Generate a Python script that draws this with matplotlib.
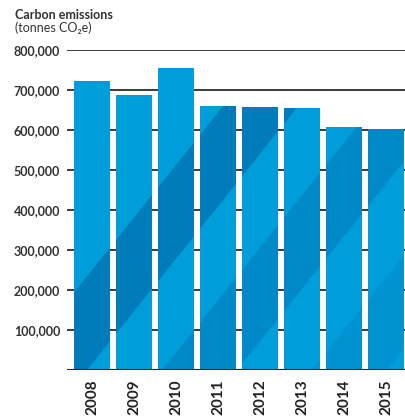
import matplotlib.pyplot as plt
import matplotlib.transforms as mtransforms
from matplotlib.patches import Polygon

# data
years = ['2008', '2009', '2010', '2011', '2012', '2013', '2014', '2015']
emissions = [722500, 688000, 756000, 661000, 657500, 655000, 607500, 602500]
y_ticks = [0, 100000, 200000, 300000, 400000, 500000, 600000, 700000, 800000]

plt.rcParams['font.family'] = ['Lato', 'DejaVu Sans']

fig = plt.figure(figsize=(4.05, 4.18), dpi=100)
ax = fig.add_axes([67 / 405, 48 / 418, 338 / 405, 320 / 418])

base_blue = '#009ddb'
bars = ax.bar(range(len(years)), emissions, width=0.857, color=base_blue,
              zorder=2, linewidth=0)

# decorative diagonal stripes, in pixels from the lower-left corner of the axes
ax_w, ax_h = 338.0, 320.0
px = mtransforms.Affine2D().scale(1 / ax_w, 1 / ax_h) + ax.transAxes
slope = 1.25
stripes = [(-55, 20, '#007cba'), (95, 170, '#0089c9'), (245, 320, '#0092d1')]
for bar in bars:
    for c0, c1, col in stripes:
        pts = [(c0, 0), (c1, 0), (c1 + 400 / slope, 400), (c0 + 400 / slope, 400)]
        poly = Polygon(pts, closed=True, transform=px, facecolor=col,
                       edgecolor='none', zorder=2.5)
        ax.add_patch(poly)
        poly.set_clip_path(bar)

ax.set_xlim(-0.595, 7.45)
ax.set_ylim(0, 800000)
ax.set_yticks(y_ticks[1:])
ax.set_yticklabels(['{:,}'.format(v) for v in y_ticks[1:]],
                   fontsize=9, fontweight='bold', color='#333333')
ax.set_xticks(range(len(years)))
ax.set_xticklabels(years, rotation=90, fontsize=11, fontweight='bold',
                   color='#222222')
ax.tick_params(axis='y', length=0, pad=5)
ax.tick_params(axis='x', length=0, pad=7)

for v in y_ticks[1:]:
    ax.axhline(v, color='#1a1a1a', linewidth=1.2, zorder=1)
ax.axhline(0, color='#1c2733', linewidth=2.2, zorder=3)

for s in ax.spines.values():
    s.set_visible(False)

fig.text(15 / 405, 1 - 15 / 418, 'Carbon emissions', fontsize=9,
         fontweight='bold', color='#333333', va='center', ha='left')
fig.text(15 / 405, 1 - 28 / 418, '(tonnes CO\u2082e)', fontsize=9,
         color='#333333', va='center', ha='left')

fig.savefig('out.png', dpi=100)
